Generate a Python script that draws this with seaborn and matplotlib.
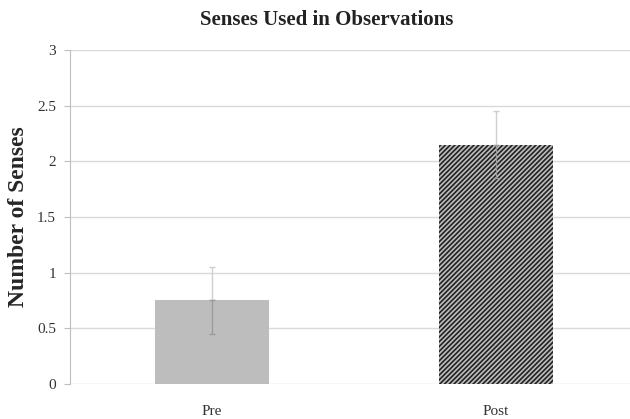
import matplotlib
matplotlib.use("Agg")
import matplotlib.pyplot as plt
import seaborn as sns
import pandas as pd

# Values
phases = ["Pre", "Post"]
mean_senses = [0.75, 2.15]
error = [0.30, 0.30]
y_ticks = [0, 0.5, 1, 1.5, 2, 2.5, 3]
y_tick_labels = ["0", "0.5", "1", "1.5", "2", "2.5", "3"]

df = pd.DataFrame({"Phase": phases, "Senses": mean_senses})

sns.set_style("white")
plt.rcParams["font.family"] = ["Liberation Serif", "DejaVu Serif"]
plt.rcParams["hatch.linewidth"] = 1.2

fig = plt.figure(figsize=(6.3, 4.19), dpi=100)
ax = fig.add_axes([0.111, 0.0835, 0.9016, 0.7975])

sns.barplot(data=df, x="Phase", y="Senses", color="#c0c0c0",
            width=0.4, errorbar=None, ax=ax, zorder=2)
for patch, hatch in zip(ax.patches, ["", "///////"]):
    patch.set_facecolor("#bdbdbd")
    patch.set_hatch(hatch)
    patch.set_edgecolor("#bdbdbd" if not hatch else "#222222")
    patch.set_linewidth(0)

# upper half of the error bars (solid, light grey)
ax.errorbar(range(len(phases)), mean_senses, yerr=[[0, 0], error],
            fmt="none", ecolor="#cfcfcf", elinewidth=1.0, capsize=2.5, zorder=3)
# lower half inside the bars (dotted)
ax.errorbar(range(len(phases)), mean_senses, yerr=[error, [0, 0]],
            fmt="none", ecolor="#9a9a9a", elinewidth=0.9, capsize=2.5,
            linestyle=":", zorder=3)

ax.set_ylim(0, 3)
ax.set_xlim(-0.5, 1.5)
ax.set_yticks(y_ticks)
ax.set_yticklabels(y_tick_labels)
ax.yaxis.grid(True, color="#d9d9d9", linewidth=1.0)
ax.set_axisbelow(True)
ax.tick_params(axis="y", length=4, color="#bfbfbf", labelsize=11, pad=6,
               left=True, labelcolor="#333333")
ax.tick_params(axis="x", length=0, labelsize=11, pad=15, labelcolor="#333333")

for side in ["top", "right", "bottom"]:
    ax.spines[side].set_visible(False)
ax.spines["left"].set_color("#bfbfbf")

ax.set_xlabel("")
ax.set_ylabel("Number of Senses", fontsize=17, fontweight="bold", labelpad=6)
fig.text(327 / 630, 1 - 20 / 419, "Senses Used in Observations",
         fontsize=15, fontweight="bold", ha="center", va="center",
         color="#222222")

plt.savefig("out.png", dpi=100)
